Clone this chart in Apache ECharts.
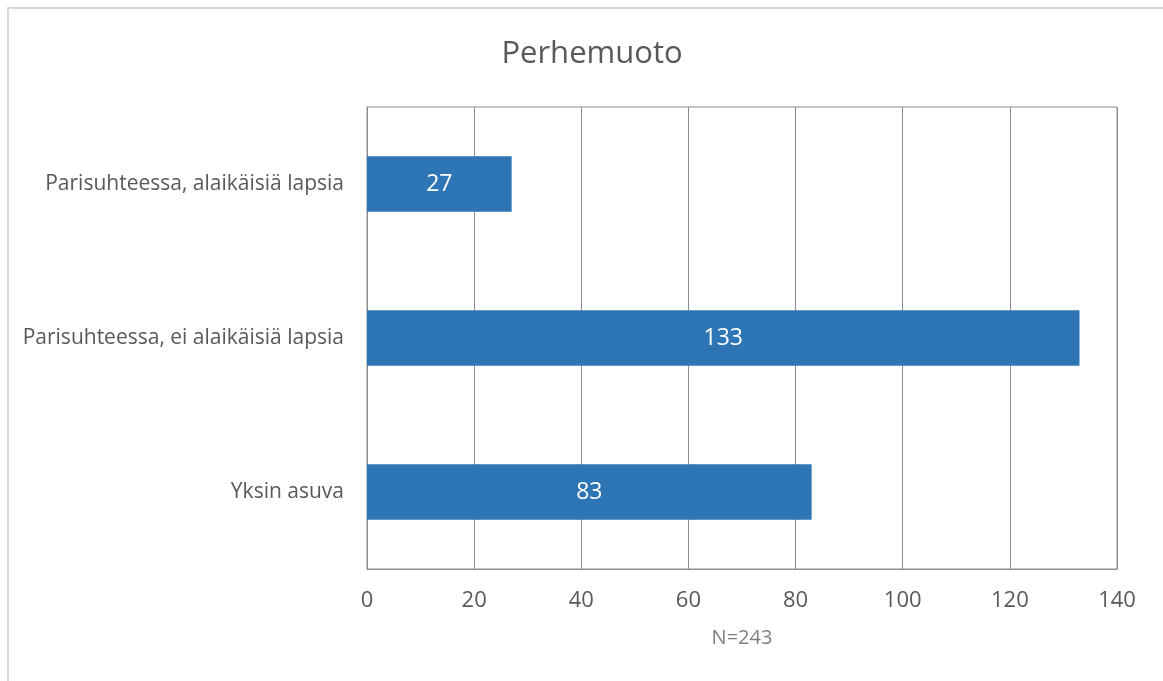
<!DOCTYPE html>
<html>
<head>
<meta charset="utf-8">
<script src="https://cdn.jsdelivr.net/npm/echarts@6/dist/echarts.min.js"></script>
<style>
  html, body { margin: 0; padding: 0; background: #fff; }
  #frame {
    position: absolute; left: 7px; top: 7px; width: 1170px; height: 690px;
    border: 2px solid #d9d9d9; box-sizing: border-box;
  }
  #chart { position: absolute; left: 0; top: 0; width: 1163px; height: 681px; }
</style>
</head>
<body>
<div id="frame"></div>
<div id="chart"></div>
<script>
// Family type of respondents (top to bottom)
const categories = ['Parisuhteessa, alaikäisiä lapsia', 'Parisuhteessa, ei alaikäisiä lapsia', 'Yksin asuva'];
const counts = [27, 133, 83];
const xTicks = [0, 20, 40, 60, 80, 100, 120, 140];
const titleText = 'Perhemuoto';
const noteText = 'N=243';

const FONT = '"Open Sans", "Noto Sans", sans-serif';
const chart = echarts.init(document.getElementById('chart'));
chart.setOption({
  animation: false,
  title: {
    text: titleText, left: 587, top: 34, textAlign: 'center',
    textStyle: { fontFamily: FONT, fontSize: 31, fontWeight: 'normal', color: '#595959' }
  },
  grid: {
    left: 367, right: 46, top: 107, bottom: 112,
    show: true, borderColor: '#8c8c8c', borderWidth: 1
  },
  xAxis: {
    type: 'value', min: xTicks[0], max: xTicks[xTicks.length - 1], interval: 20,
    name: noteText, nameLocation: 'middle', nameGap: 59,
    nameTextStyle: { fontFamily: FONT, fontSize: 20, color: '#7f7f7f' },
    axisLine: { show: true, lineStyle: { color: '#8c8c8c' } },
    axisTick: { show: false },
    axisLabel: { margin: 21, fontFamily: FONT, fontSize: 22, color: '#595959' },
    splitLine: { show: true, lineStyle: { color: '#8c8c8c', width: 1 } }
  },
  yAxis: {
    type: 'category', data: categories, inverse: true,
    axisLine: { show: true, lineStyle: { color: '#8c8c8c' } },
    axisTick: { show: false },
    axisLabel: { margin: 23, fontFamily: FONT, fontSize: 21, color: '#595959' }
  },
  series: [{
    type: 'bar', data: counts, barWidth: '36%',
    itemStyle: { color: '#2e75b6' },
    label: {
      show: true, position: 'inside', fontFamily: FONT, fontSize: 23, color: '#ffffff'
    }
  }]
});
</script>
</body>
</html>
